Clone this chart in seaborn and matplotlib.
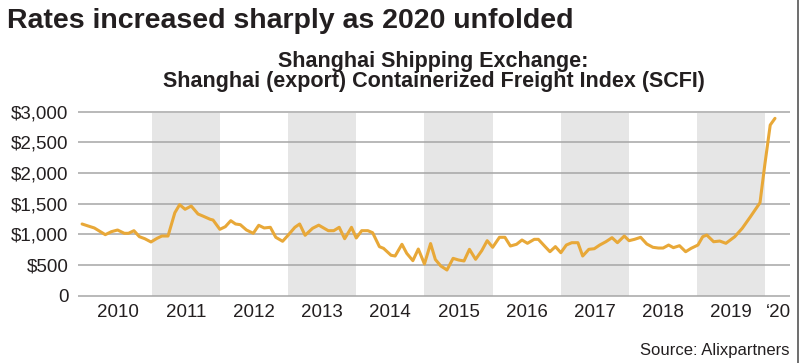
import matplotlib
matplotlib.use("Agg")
import matplotlib.pyplot as plt
import seaborn as sns
import pandas as pd
from matplotlib.lines import Line2D

# SCFI readings (decimal year, index value)
dates = [
    2009.98, 2010.07, 2010.16, 2010.32, 2010.41, 2010.50, 2010.60, 2010.66, 2010.74, 2010.82,
    2010.90, 2010.99, 2011.08, 2011.15, 2011.24, 2011.34, 2011.41, 2011.49, 2011.58, 2011.68,
    2011.75, 2011.86, 2011.90, 2012.00, 2012.08, 2012.16, 2012.23, 2012.30, 2012.39, 2012.49,
    2012.57, 2012.65, 2012.74, 2012.82, 2012.92, 2013.00, 2013.10, 2013.17, 2013.25, 2013.36,
    2013.45, 2013.59, 2013.67, 2013.75, 2013.83, 2013.93, 2014.00, 2014.08, 2014.17, 2014.24,
    2014.34, 2014.40, 2014.51, 2014.57, 2014.67, 2014.74, 2014.83, 2014.91, 2015.00, 2015.09,
    2015.16, 2015.24, 2015.33, 2015.42, 2015.50, 2015.58, 2015.66, 2015.75, 2015.84, 2015.92,
    2016.00, 2016.10, 2016.18, 2016.26, 2016.35, 2016.43, 2016.51, 2016.61, 2016.67, 2016.77,
    2016.84, 2016.92, 2017.00, 2017.08, 2017.16, 2017.25, 2017.32, 2017.41, 2017.49, 2017.57,
    2017.66, 2017.75, 2017.83, 2017.93, 2018.00, 2018.08, 2018.17, 2018.26, 2018.35, 2018.43,
    2018.50, 2018.58, 2018.65, 2018.74, 2018.83, 2018.91, 2019.01, 2019.08, 2019.14, 2019.24,
    2019.33, 2019.42, 2019.55, 2019.66, 2019.78, 2019.92, 2019.99, 2020.07, 2020.14,
]
scfi = [
    1169, 1136, 1104, 995, 1044, 1071, 1017, 1017, 1060, 962,
    929, 876, 936, 973, 973, 1353, 1484, 1409, 1462, 1332,
    1299, 1245, 1234, 1082, 1125, 1223, 1169, 1158, 1071, 1017,
    1148, 1104, 1115, 952, 887, 985, 1115, 1169, 985, 1099,
    1150, 1060, 1060, 1115, 929, 1115, 941, 1060, 1060, 1027,
    799, 772, 659, 647, 838, 691, 571, 761, 517, 850,
    590, 484, 419, 609, 582, 566, 756, 593, 734, 897,
    789, 952, 952, 810, 838, 908, 854, 919, 919, 799,
    717, 800, 701, 826, 864, 864, 647, 756, 766, 826,
    880, 946, 864, 973, 897, 919, 952, 843, 789, 777,
    777, 826, 783, 815, 717, 772, 826, 962, 989, 880,
    891, 854, 962, 1099, 1288, 1516, 2131, 2783, 2892,
]

shaded_years = [2011, 2013, 2015, 2017, 2019]
year_ticks = [2010.5, 2011.5, 2012.5, 2013.5, 2014.5, 2015.5, 2016.5, 2017.5, 2018.5, 2019.5, 2020.19]
year_labels = ["2010", "2011", "2012", "2013", "2014", "2015", "2016", "2017", "2018", "2019", "\u201820"]
y_ticks = [0, 500, 1000, 1500, 2000, 2500, 3000]
y_labels = ["0", "$500", "$1,000", "$1,500", "$2,000", "$2,500", "$3,000"]

df = pd.DataFrame({"date": dates, "scfi": scfi})

sns.set_theme(style="white")
plt.rcParams['font.family'] = ['Liberation Sans', 'DejaVu Sans']

ink = "#231f20"
gold = "#e8a838"
grid_c = "#a6a6a6"

fig = plt.figure(figsize=(8, 3.63), dpi=100)
ax = fig.add_axes([78 / 800, 1 - 296.6 / 363, 712 / 800, 185.8 / 363])

# alternating year bands
for yr in shaded_years:
    ax.fill_between([yr, yr + 1], 0, 2975, color="#e6e6e6", lw=0, zorder=0)
for v in y_ticks:
    ax.axhline(v, color=grid_c, lw=1.1, zorder=1)

sns.lineplot(data=df, x="date", y="scfi", ax=ax, color=gold, lw=2.2, zorder=3)

ax.set_xlim(2009.92, 2020.36)
ax.set_ylim(-15, 3015)
ax.set_yticks(y_ticks)
ax.set_yticklabels(y_labels)
ax.set_xticks(year_ticks)
ax.set_xticklabels(year_labels)
ax.tick_params(axis="both", length=0, labelsize=13.5, colors=ink)
ax.tick_params(axis="y", pad=7)
ax.tick_params(axis="x", pad=5)
ax.set_xlabel("")
ax.set_ylabel("")
for s in ax.spines.values():
    s.set_visible(False)

fig.text(7 / 800, 1 - 28 / 363, "Rates increased sharply as 2020 unfolded",
         fontsize=20.5, fontweight="bold", color=ink, ha="left", va="baseline")
fig.text(433.5 / 800, 1 - 66.7 / 363, "Shanghai Shipping Exchange:",
         fontsize=15.5, fontweight="bold", color=ink, ha="center", va="baseline")
fig.text(433.5 / 800, 1 - 87.5 / 363, "Shanghai (export) Containerized Freight Index (SCFI)",
         fontsize=15.5, fontweight="bold", color=ink, ha="center", va="baseline")
fig.text(789 / 800, 1 - 355 / 363, "Source: Alixpartners",
         fontsize=12, color=ink, ha="right", va="baseline")

fig.add_artist(Line2D([797.5 / 800, 797.5 / 800], [0, 1], color="#555555", lw=1.2))

fig.savefig("out.png", dpi=100)
